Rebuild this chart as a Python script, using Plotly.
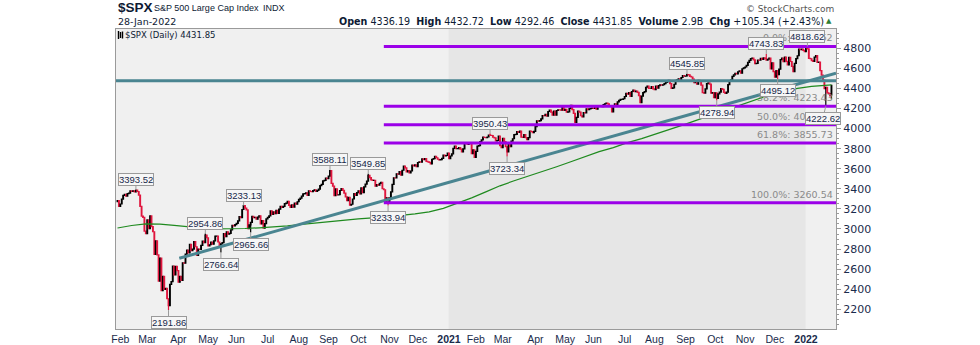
import plotly.graph_objects as go
import pandas as pd

# ---------------- data ----------------
first_prev_close = 3273.40
closes = [
    # 2020 Jan 30-31
    3283.66, 3225.52,
    # Feb 2020
    3248.92, 3297.59, 3334.69, 3345.78, 3327.71, 3352.09, 3357.75, 3379.45, 3373.94, 3380.16,
    3370.29, 3386.15, 3373.23, 3337.75, 3225.89, 3128.21, 3116.39, 2978.76, 2954.22,
    # Mar 2020
    3090.23, 3003.37, 3130.12, 3023.94, 2972.37, 2746.56, 2882.23, 2741.38, 2480.64, 2711.02,
    2386.13, 2529.19, 2398.10, 2409.39, 2304.92, 2237.40, 2447.33, 2475.56, 2630.07, 2541.47,
    2626.65, 2584.59,
    # Apr 2020
    2470.50, 2526.90, 2488.65, 2663.68, 2659.41, 2749.98, 2789.82, 2761.63, 2846.06, 2783.36,
    2799.55, 2874.56, 2823.16, 2736.56, 2799.31, 2797.80, 2836.74, 2878.48, 2863.39, 2939.51,
    2912.43,
    # May 2020
    2830.71, 2842.74, 2868.44, 2848.42, 2881.19, 2929.80, 2930.32, 2870.12, 2820.00, 2852.50,
    2863.70, 2953.91, 2922.94, 2971.61, 2948.51, 2955.45, 2991.77, 3036.13, 3029.73, 3044.31,
    # Jun 2020
    3055.73, 3080.82, 3122.87, 3112.35, 3193.93, 3232.39, 3207.18, 3190.14, 3002.10, 3041.31,
    3066.59, 3124.74, 3113.49, 3115.34, 3097.74, 3117.86, 3131.29, 3050.33, 3083.76, 3009.05,
    3053.24, 3100.29,
    # Jul 2020
    3115.86, 3130.01, 3179.72, 3145.32, 3169.94, 3152.05, 3185.04, 3155.22, 3197.52, 3226.56,
    3215.57, 3224.73, 3251.84, 3257.30, 3276.02, 3235.66, 3215.63, 3239.41, 3218.44, 3258.44,
    3246.22, 3271.12,
    # Aug 2020
    3294.61, 3306.51, 3327.77, 3349.16, 3351.28, 3360.47, 3333.69, 3380.35, 3373.43, 3372.85,
    3381.99, 3389.78, 3374.85, 3385.51, 3397.16, 3431.28, 3443.62, 3478.73, 3484.55, 3508.01,
    3500.31,
    # Sep 2020
    3526.65, 3580.84, 3455.06, 3426.96, 3331.84, 3398.96, 3339.19, 3340.97, 3383.54, 3401.20,
    3385.49, 3357.01, 3319.47, 3281.06, 3315.57, 3236.92, 3246.59, 3298.46, 3351.60, 3335.47,
    3363.00,
    # Oct 2020
    3380.80, 3348.42, 3408.60, 3360.97, 3419.44, 3446.83, 3477.14, 3534.22, 3511.93, 3488.67,
    3483.34, 3483.81, 3426.92, 3443.12, 3435.56, 3453.49, 3465.39, 3400.97, 3390.68, 3271.03,
    3310.11, 3269.96,
    # Nov 2020
    3310.24, 3369.16, 3443.44, 3510.45, 3509.44, 3550.50, 3545.53, 3572.66, 3537.01, 3585.15,
    3626.91, 3609.53, 3567.79, 3581.87, 3557.54, 3577.59, 3635.41, 3629.65, 3638.35, 3621.63,
    # Dec 2020
    3662.45, 3669.01, 3666.72, 3699.12, 3691.96, 3702.25, 3672.82, 3668.10, 3663.46, 3647.49,
    3694.62, 3701.17, 3722.48, 3709.41, 3694.92, 3687.26, 3690.01, 3703.06, 3735.36, 3727.04,
    3732.04, 3756.07,
    # Jan 2021
    3700.65, 3726.86, 3748.14, 3803.79, 3824.68, 3799.61, 3801.19, 3809.84, 3795.54, 3768.25,
    3798.91, 3851.85, 3853.07, 3841.47, 3855.36, 3849.62, 3750.77, 3787.38, 3714.24,
    # Feb 2021
    3773.86, 3826.31, 3830.17, 3871.74, 3886.83, 3915.59, 3911.23, 3909.88, 3916.38, 3934.83,
    3932.59, 3931.33, 3913.97, 3906.71, 3876.50, 3881.37, 3925.43, 3829.34, 3811.15,
    # Mar 2021
    3901.82, 3870.29, 3819.72, 3768.47, 3841.94, 3821.35, 3875.44, 3898.81, 3939.34, 3943.34,
    3968.94, 3962.71, 3974.12, 3915.46, 3913.10, 3940.59, 3910.52, 3889.14, 3909.52, 3974.54,
    3971.09, 3958.55, 3972.89,
    # Apr 2021
    4019.87, 4077.91, 4073.94, 4079.95, 4097.17, 4128.80, 4127.99, 4141.59, 4124.66, 4170.42,
    4185.47, 4163.26, 4134.94, 4173.42, 4134.98, 4180.17, 4187.62, 4186.72, 4183.18, 4211.47,
    4181.17,
    # May 2021
    4192.66, 4164.66, 4167.59, 4201.62, 4232.60, 4188.43, 4152.10, 4063.04, 4112.50, 4173.85,
    4163.29, 4127.83, 4115.68, 4159.12, 4155.86, 4197.05, 4188.13, 4195.99, 4200.88, 4204.11,
    # Jun 2021
    4202.04, 4208.12, 4192.85, 4229.89, 4226.52, 4227.26, 4219.55, 4239.18, 4247.44, 4255.15,
    4246.59, 4223.70, 4221.86, 4166.45, 4224.79, 4246.44, 4241.84, 4266.49, 4280.70, 4290.61,
    4291.80, 4297.50,
    # Jul 2021
    4319.94, 4352.34, 4343.54, 4358.13, 4320.82, 4369.55, 4384.63, 4369.21, 4374.30, 4360.03,
    4327.16, 4258.49, 4323.06, 4358.69, 4367.48, 4411.79, 4422.30, 4401.46, 4400.64, 4419.15,
    4395.26,
    # Aug 2021
    4387.16, 4423.15, 4402.66, 4429.10, 4436.52, 4432.35, 4436.75, 4447.70, 4460.83, 4468.00,
    4479.71, 4448.08, 4400.27, 4405.80, 4441.67, 4479.53, 4486.23, 4496.19, 4470.00, 4509.37,
    4528.79, 4522.68,
    # Sep 2021
    4524.09, 4536.95, 4535.43, 4520.03, 4514.07, 4493.28, 4458.58, 4468.73, 4443.05, 4480.70,
    4473.75, 4432.99, 4357.73, 4354.19, 4395.64, 4448.98, 4455.48, 4443.11, 4352.63, 4359.46,
    4307.54,
    # Oct 2021
    4357.04, 4300.46, 4345.72, 4363.55, 4399.76, 4391.34, 4361.19, 4350.65, 4363.80, 4438.26,
    4471.37, 4486.46, 4519.63, 4536.19, 4549.78, 4544.90, 4566.48, 4574.79, 4551.68, 4596.42,
    4605.38,
    # Nov 2021
    4613.67, 4630.65, 4660.57, 4680.06, 4697.53, 4701.70, 4685.25, 4646.71, 4649.27, 4682.85,
    4682.80, 4700.90, 4688.67, 4704.54, 4697.96, 4682.94, 4690.70, 4701.46, 4594.62, 4655.27,
    4567.00,
    # Dec 2021
    4513.04, 4577.10, 4538.43, 4591.67, 4686.75, 4701.21, 4667.45, 4712.02, 4668.97, 4634.09,
    4709.85, 4668.67, 4620.64, 4568.02, 4649.23, 4696.56, 4725.79, 4791.19, 4786.35, 4793.06,
    4778.73, 4766.18,
    # Jan 2022
    4796.56, 4793.54, 4700.58, 4696.05, 4677.03, 4670.29, 4713.07, 4726.35, 4659.03, 4662.85,
    4577.11, 4532.76, 4482.73, 4397.94, 4410.13, 4356.45, 4349.93, 4326.51, 4431.85,
]

holidays = ["2020-02-17", "2020-04-10", "2020-05-25", "2020-07-03", "2020-09-07",
            "2020-11-26", "2020-12-25", "2021-01-01", "2021-01-18", "2021-02-15",
            "2021-04-02", "2021-05-31", "2021-07-05", "2021-09-06", "2021-11-25",
            "2021-12-24", "2022-01-17"]

# last session (header) : open, high, low, close
last_ohlc = [4336.19, 4432.72, 4292.46, 4431.85]

# labelled pivots (date, value, kind)
pivot_dates = ["2020-02-19", "2020-03-23", "2020-04-29", "2020-05-14", "2020-06-08",
               "2020-06-15", "2020-09-02", "2020-10-12", "2020-10-30", "2021-02-16",
               "2021-03-04", "2021-09-02", "2021-10-04", "2021-11-22", "2021-12-03",
               "2022-01-04", "2022-01-24"]
pivot_values = [3393.52, 2191.86, 2954.86, 2766.64, 3233.13, 2965.66, 3588.11, 3549.85,
                3233.94, 3950.43, 3723.34, 4545.85, 4278.94, 4743.83, 4495.12, 4818.62,
                4222.62]
pivot_kind = ["H", "L", "H", "L", "H", "L", "H", "H", "L", "H", "L", "H", "L", "H", "L",
              "H", "L"]

# 200-day moving average (trading-day index, value)
ma_idx = [0, 10, 20, 30, 40, 50, 60, 70, 80, 90, 100, 110, 120, 130, 140, 150, 160, 170,
          180, 190, 200, 210, 220, 230, 240, 250, 260, 270, 280, 290, 300, 310, 320, 330,
          340, 350, 360, 370, 380, 390, 400, 410, 420, 430, 440, 450, 460, 470, 480, 490,
          500, 504]
ma_val = [3010, 3035, 3050, 3048, 3035, 3020, 3008, 3002, 3000, 3005, 3012, 3018, 3030,
          3045, 3060, 3075, 3085, 3100, 3110, 3120, 3135, 3150, 3170, 3205, 3255, 3310,
          3370, 3430, 3480, 3525, 3570, 3620, 3670, 3720, 3770, 3810, 3860, 3900, 3945,
          3990, 4040, 4090, 4140, 4190, 4240, 4290, 4335, 4370, 4400, 4420, 4432, 4435]

# Fibonacci retracement
fib_high = 4818.62
fib_low = 3260.54
fib_pcts = [0.0, 38.2, 50.0, 61.8, 100.0]
fib_start_idx = 188

# Trend line (trading-day index, value) and horizontal line
trend_x = [43.6, 507.2]
trend_y = [2708, 4551]
hline_y = 4477

tick_labels = ["Feb", "Mar", "Apr", "May", "Jun", "Jul", "Aug", "Sep", "Oct", "Nov", "Dec",
               "2021", "Feb", "Mar", "Apr", "May", "Jun", "Jul", "Aug", "Sep", "Oct", "Nov",
               "Dec", "2022"]
y_ticks = [2200, 2400, 2600, 2800, 3000, 3200, 3400, 3600, 3800, 4000, 4200, 4400, 4600, 4800]

header_labels = ["Open", "High", "Low", "Close", "Volume", "Chg"]
header_values = ["4336.19", "4432.72", "4292.46", "4431.85", "2.9B", "+105.34 (+2.43%)"]

# ---------------- build ----------------
bd = pd.bdate_range("2020-01-30", "2022-01-28")
dates = [d for d in bd if d.strftime("%Y-%m-%d") not in holidays]
xs = [d.strftime("%Y-%m-%d") for d in dates]
if len(xs) != len(closes):
    raise ValueError(f"dates {len(xs)} vs closes {len(closes)}")

opens = [first_prev_close] + closes[:-1]
opens[-1] = last_ohlc[0]
highs = [max(o, c) for o, c in zip(opens, closes)]
lows = [min(o, c) for o, c in zip(opens, closes)]
highs[-1] = last_ohlc[1]
lows[-1] = last_ohlc[2]
for d, v, k in zip(pivot_dates, pivot_values, pivot_kind):
    i = xs.index(d)
    if k == "H":
        highs[i] = max(highs[i], v)
    else:
        lows[i] = min(lows[i], v)

tickvals = []
for i in range(1, len(dates)):
    if dates[i].month != dates[i - 1].month:
        tickvals.append(xs[i])
ticktext = [f"<b>{t}</b>" if t.isdigit() else t for t in tick_labels]

RED = "#e0163e"
fig = go.Figure()
fig.add_trace(go.Candlestick(
    x=xs, open=opens, high=highs, low=lows, close=closes,
    increasing=dict(line=dict(color="#000000", width=1.2), fillcolor="#000000"),
    decreasing=dict(line=dict(color=RED, width=1.2), fillcolor=RED),
    whiskerwidth=0, showlegend=False, hoverinfo="skip"))
fig.add_trace(go.Scatter(
    x=[xs[i] for i in ma_idx], y=ma_val, mode="lines",
    line=dict(color="#1f8a1f", width=1.2), showlegend=False, hoverinfo="skip"))

XMIN, XMAX = -1.06, 507.2
Y0, Y1 = 2003.6, 4992.3
i2021 = xs.index("2021-01-04")
i2022 = xs.index("2022-01-03")

shapes = [
    dict(type="rect", xref="x", yref="paper", x0=i2021 - 0.3, x1=i2022 - 0.3, y0=0, y1=1,
         fillcolor="#e6e6e6", line=dict(width=0), layer="below"),
    dict(type="line", xref="paper", yref="y", x0=0, x1=1, y0=hline_y, y1=hline_y,
         line=dict(color="#4a8591", width=3)),
    dict(type="line", xref="x", yref="y", x0=trend_x[0], x1=trend_x[1],
         y0=trend_y[0], y1=trend_y[1], line=dict(color="#4a8591", width=3)),
]
annotations = []
fib_levels = [fib_high - (fib_high - fib_low) * p / 100 for p in fib_pcts]
for p, lv in zip(fib_pcts, fib_levels):
    shapes.append(dict(type="line", xref="x", yref="y", x0=fib_start_idx, x1=XMAX,
                       y0=lv, y1=lv, line=dict(color="#9b00e8", width=3)))
    annotations.append(dict(xref="paper", yref="y", x=1, y=lv, xanchor="right",
                            yanchor="bottom", xshift=-1, yshift=1, showarrow=False,
                            text=f"{p:.1f}%: {lv:.2f}",
                            font=dict(family="DejaVu Sans", size=9.5, color="#8a8a8a")))

for d, v, k in zip(pivot_dates, pivot_values, pivot_kind):
    ay = -10 if k == "H" else 12
    ax = -3 if d == "2022-01-24" else 0
    annotations.append(dict(x=d, y=v, xref="x", yref="y", text=f"{v:.2f}",
                            showarrow=True, arrowhead=0, arrowwidth=1,
                            arrowcolor="#9a9a9a", ax=ax, ay=ay, standoff=0,
                            bgcolor="#f6f6f6", bordercolor="#9a9a9a", borderwidth=1,
                            borderpad=0,
                            font=dict(family="Liberation Sans", size=9.5, color="#16284a")))

H = 300.0
def py(pix):
    return (329 - pix) / H

def px(pix):
    return (pix - 116) / 720.0

hdr = "  ".join(f"<b>{l}</b> {v}" for l, v in zip(header_labels, header_values))
annotations += [
    dict(xref="paper", yref="paper", x=px(116), y=py(8), xanchor="left", yanchor="middle",
         showarrow=False, text="<b>$SPX</b>",
         font=dict(family="Liberation Sans", size=13.5, color="#0d1a33")),
    dict(xref="paper", yref="paper", x=px(152), y=py(8.5), xanchor="left", yanchor="middle",
         showarrow=False, text="S&P 500 Large Cap Index",
         font=dict(family="Liberation Sans", size=9, color="#0d1a33")),
    dict(xref="paper", yref="paper", x=px(261), y=py(8.5), xanchor="left", yanchor="middle",
         showarrow=False, text="INDX",
         font=dict(family="Liberation Sans", size=9, color="#0d1a33")),
    dict(xref="paper", yref="paper", x=px(116), y=py(21), xanchor="left", yanchor="middle",
         showarrow=False, text="28-Jan-2022",
         font=dict(family="DejaVu Sans", size=9.5, color="#0d1a33")),
    dict(xref="paper", yref="paper", x=px(826), y=py(21), xanchor="right", yanchor="middle",
         showarrow=False, text=hdr,
         font=dict(family="DejaVu Sans", size=9.6, color="#0d1a33")),
    dict(xref="paper", yref="paper", x=px(834), y=py(21), xanchor="right", yanchor="middle",
         showarrow=False, text="▲",
         font=dict(family="DejaVu Sans", size=7, color="#2e7d32")),
    dict(xref="paper", yref="paper", x=px(836), y=py(9), xanchor="right", yanchor="middle",
         showarrow=False, text="© StockCharts.com",
         font=dict(family="DejaVu Sans", size=9, color="#555555")),
    dict(xref="paper", yref="paper", x=px(123), y=py(35), xanchor="left", yanchor="middle",
         showarrow=False, text="$SPX (Daily) 4431.85",
         font=dict(family="DejaVu Sans", size=8.5, color="#0d1a33")),
]
# small candle icon in the legend strip
for k, (xa, ya, yb) in enumerate([(118.5, 31, 39), (120.5, 32, 38), (122.5, 31.5, 38.5)]):
    shapes.append(dict(type="rect", xref="paper", yref="paper", x0=px(xa - 0.7), x1=px(xa + 0.7),
                       y0=py(yb), y1=py(ya), fillcolor="#000000", line=dict(width=0)))

fig.update_layout(
    width=980, height=345, margin=dict(l=116, r=144, t=29, b=16, autoexpand=False),
    paper_bgcolor="#ffffff", plot_bgcolor="#f0f0f0",
    shapes=shapes, annotations=annotations, showlegend=False,
    font=dict(family="Liberation Sans"),
    xaxis=dict(type="category", range=[XMIN, XMAX], rangeslider=dict(visible=False),
               tickmode="array", tickvals=tickvals, ticktext=ticktext, ticks="",
               tickfont=dict(family="Liberation Sans", size=10.5, color="#1a2b4c"),
               showline=True, linecolor="#9a9a9a", linewidth=1, mirror=True,
               showgrid=False, zeroline=False, fixedrange=True, automargin=False),
    yaxis=dict(range=[Y0, Y1], side="right", tickmode="array", tickvals=y_ticks,
               ticks="outside", ticklen=4, tickcolor="#9a9a9a",
               minor=dict(dtick=50, ticks="outside", ticklen=2, tickcolor="#9a9a9a"),
               tickfont=dict(family="DejaVu Sans", size=11, color="#1a2b4c"),
               showline=True, linecolor="#9a9a9a", linewidth=1, mirror=True,
               showgrid=False, zeroline=False, fixedrange=True, automargin=False),
)
fig.write_html("out.html")
